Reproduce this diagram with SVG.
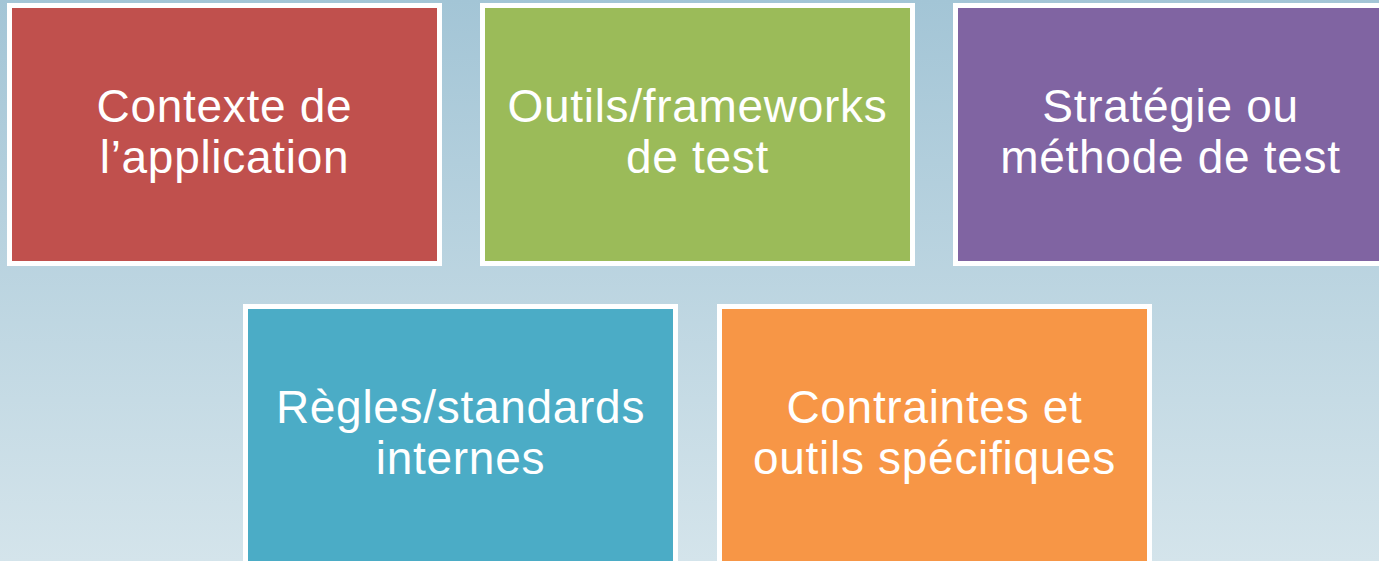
<svg xmlns="http://www.w3.org/2000/svg" width="1379" height="561" viewBox="0 0 1379 561">
  <defs>
    <linearGradient id="bg" x1="0" y1="0" x2="0" y2="1">
      <stop offset="0" stop-color="#A3C5D6"/>
      <stop offset="1" stop-color="#D4E4EB"/>
    </linearGradient>
  </defs>
  <style>
    .box { stroke: #FFFFFF; stroke-width: 5; }
    .lbl { font-family: "Liberation Sans", Arial, sans-serif; font-size: 46px; letter-spacing: 0.7px; fill: #FFFFFF; text-anchor: middle; }
  </style>
  <rect x="0" y="0" width="1379" height="561" fill="url(#bg)"/>
  <g id="node-contexte">
    <rect class="box" x="9.5" y="5.5" width="430" height="258" fill="#C0504D"/>
    <text class="lbl" x="224.5" y="122">Contexte de</text>
    <text class="lbl" x="224.5" y="173">l’application</text>
  </g>
  <g id="node-outils">
    <rect class="box" x="482.5" y="5.5" width="430" height="258" fill="#9BBB59"/>
    <text class="lbl" x="697.5" y="122">Outils/frameworks</text>
    <text class="lbl" x="697.5" y="173">de test</text>
  </g>
  <g id="node-strategie">
    <rect class="box" x="955.5" y="5.5" width="430" height="258" fill="#8064A2"/>
    <text class="lbl" x="1170.5" y="122">Stratégie ou</text>
    <text class="lbl" x="1170.5" y="173">méthode de test</text>
  </g>
  <g id="node-regles">
    <rect class="box" x="245.5" y="306.5" width="430" height="258" fill="#4BACC6"/>
    <text class="lbl" x="460.5" y="423">Règles/standards</text>
    <text class="lbl" x="460.5" y="474">internes</text>
  </g>
  <g id="node-contraintes">
    <rect class="box" x="719.5" y="306.5" width="430" height="258" fill="#F79646"/>
    <text class="lbl" x="934.5" y="423">Contraintes et</text>
    <text class="lbl" x="934.5" y="474">outils spécifiques</text>
  </g>
  <g id="connectors"></g>
</svg>
